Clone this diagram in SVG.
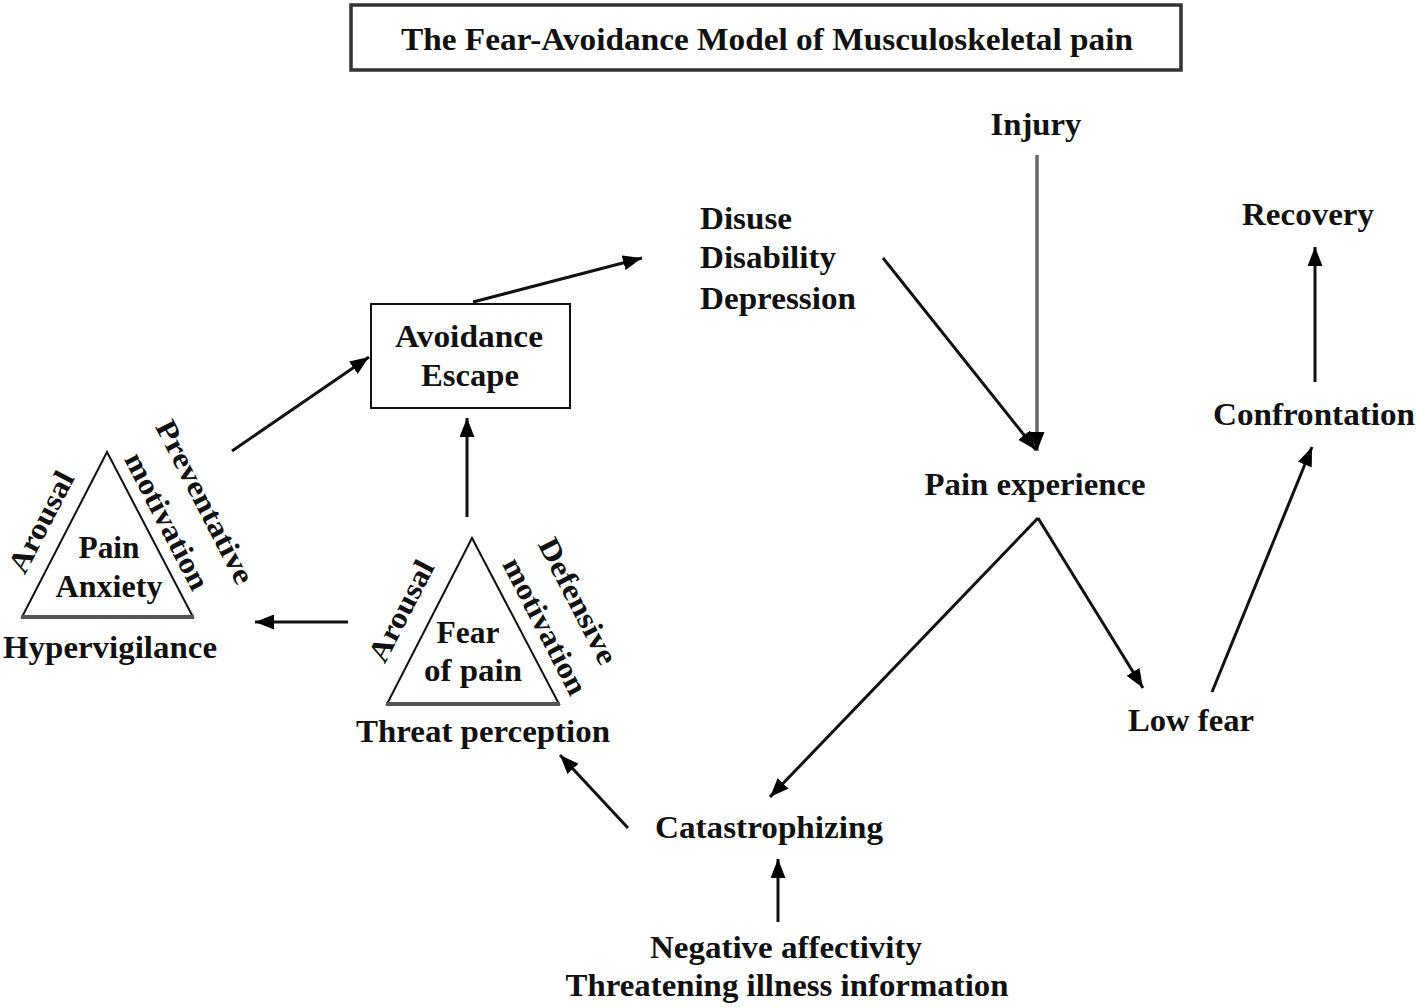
<svg xmlns="http://www.w3.org/2000/svg" width="1418" height="1008" viewBox="0 0 1418 1008">
<style>
  text { font-family: "Liberation Serif", "Times New Roman", serif; font-weight: bold; fill: #111; font-size: 32px; }
  .c { text-anchor: middle; }
  .r { font-size: 30px; }
  .conn line { stroke: #111; stroke-width: 3; fill: none; marker-end: url(#ah); }
  .tri { fill: #fff; stroke: #111; stroke-width: 2; }
  .base { stroke: #555; stroke-width: 4; }
</style>
<defs>
  <marker id="ah" viewBox="0 0 19 15" refX="19" refY="7.5" markerWidth="19" markerHeight="15" markerUnits="userSpaceOnUse" orient="auto">
    <path d="M0,0 L19,7.5 L0,15 Z" fill="#000"/>
  </marker>
</defs>
<rect width="1418" height="1008" fill="#fff"/>

<g id="title">
  <rect x="351" y="5" width="830" height="65" fill="#fff" stroke="#333" stroke-width="3.5"/>
  <text x="767" y="50" class="c" font-size="30" textLength="732" lengthAdjust="spacingAndGlyphs">The Fear-Avoidance Model of Musculoskeletal pain</text>
</g>

<g id="injury"><text x="1036" y="135" class="c" textLength="91" lengthAdjust="spacingAndGlyphs">Injury</text></g>

<g id="disuse">
  <text x="700" y="229" textLength="92" lengthAdjust="spacingAndGlyphs">Disuse</text>
  <text x="700" y="268" textLength="136" lengthAdjust="spacingAndGlyphs">Disability</text>
  <text x="700" y="309" textLength="156" lengthAdjust="spacingAndGlyphs">Depression</text>
</g>

<g id="recovery"><text x="1308" y="225" class="c" textLength="132" lengthAdjust="spacingAndGlyphs">Recovery</text></g>

<g id="avoidance">
  <rect x="371" y="304" width="199" height="104" fill="#fff" stroke="#111" stroke-width="2"/>
  <text x="469" y="347" class="c" textLength="148" lengthAdjust="spacingAndGlyphs">Avoidance</text>
  <text x="470" y="386" class="c" textLength="98" lengthAdjust="spacingAndGlyphs">Escape</text>
</g>

<g id="confrontation"><text x="1314" y="425" class="c" textLength="202" lengthAdjust="spacingAndGlyphs">Confrontation</text></g>

<g id="pain-experience"><text x="1035" y="495" class="c" textLength="221" lengthAdjust="spacingAndGlyphs">Pain experience</text></g>

<g id="pain-anxiety">
  <polygon class="tri" points="107,452 22,617 193,617"/>
  <line class="base" x1="21" y1="617" x2="194" y2="617"/>
  <text x="109" y="558" class="c" textLength="61" lengthAdjust="spacingAndGlyphs">Pain</text>
  <text x="109" y="597" class="c" textLength="107" lengthAdjust="spacingAndGlyphs">Anxiety</text>
  <text class="c r" transform="translate(41,522) rotate(-62.7)" y="10" textLength="110" lengthAdjust="spacingAndGlyphs">Arousal</text>
  <text class="c r" transform="translate(205,502) rotate(62.7)" y="10" textLength="180" lengthAdjust="spacingAndGlyphs">Preventative</text>
  <text class="c r" transform="translate(167,521) rotate(62.7)" y="10" textLength="150" lengthAdjust="spacingAndGlyphs">motivation</text>
  <text x="110" y="658" class="c" textLength="214" lengthAdjust="spacingAndGlyphs">Hypervigilance</text>
</g>

<g id="fear-of-pain">
  <polygon class="tri" points="472,538 387,704 559,704"/>
  <line class="base" x1="386" y1="704" x2="560" y2="704"/>
  <text x="468" y="643" class="c" textLength="63" lengthAdjust="spacingAndGlyphs">Fear</text>
  <text x="473" y="681" class="c" textLength="98" lengthAdjust="spacingAndGlyphs">of pain</text>
  <text class="c r" transform="translate(401,611) rotate(-62.7)" y="10" textLength="110" lengthAdjust="spacingAndGlyphs">Arousal</text>
  <text class="c r" transform="translate(578,601) rotate(62.7)" y="10" textLength="138" lengthAdjust="spacingAndGlyphs">Defensive</text>
  <text class="c r" transform="translate(545,626) rotate(62.7)" y="10" textLength="150" lengthAdjust="spacingAndGlyphs">motivation</text>
  <text x="483" y="742" class="c" textLength="254" lengthAdjust="spacingAndGlyphs">Threat perception</text>
</g>

<g id="low-fear"><text x="1191" y="731" class="c" textLength="126" lengthAdjust="spacingAndGlyphs">Low fear</text></g>

<g id="catastrophizing"><text x="769" y="838" class="c" textLength="228" lengthAdjust="spacingAndGlyphs">Catastrophizing</text></g>

<g id="negative">
  <text x="786" y="958" class="c" textLength="272" lengthAdjust="spacingAndGlyphs">Negative affectivity</text>
  <text x="787" y="996" class="c" textLength="443" lengthAdjust="spacingAndGlyphs">Threatening illness information</text>
</g>

<g id="connectors" class="conn">
  <line x1="1037" y1="155" x2="1037" y2="451" style="stroke:#666;stroke-width:3.5"/>
  <line x1="883" y1="258" x2="1036" y2="450"/>
  <line x1="1038" y1="518" x2="770" y2="797"/>
  <line x1="1038" y1="518" x2="1143" y2="688"/>
  <line x1="1212" y1="692" x2="1312" y2="447"/>
  <line x1="1315" y1="382" x2="1315" y2="247"/>
  <line x1="778" y1="922" x2="778" y2="859"/>
  <line x1="628" y1="828" x2="560" y2="755"/>
  <line x1="467" y1="517" x2="467" y2="418"/>
  <line x1="473" y1="302" x2="642" y2="258"/>
  <line x1="232" y1="451" x2="369" y2="357"/>
  <line x1="348" y1="622" x2="255" y2="622"/>
</g>
</svg>
